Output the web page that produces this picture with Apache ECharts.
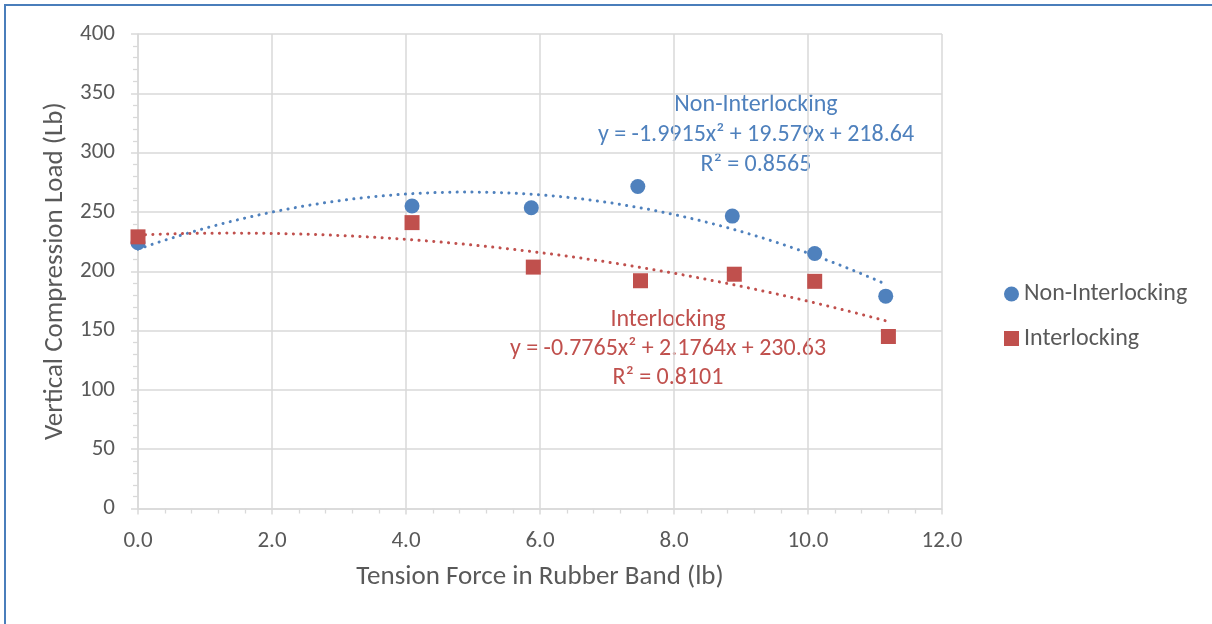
<!DOCTYPE html>
<html>
<head>
<meta charset="utf-8">
<script src="https://cdn.jsdelivr.net/npm/echarts@6/dist/echarts.min.js"></script>
<style>
  html, body { margin: 0; padding: 0; background: #fff; }
  #chart { width: 1212px; height: 624px; }
</style>
</head>
<body>
<div id="chart"></div>
<script>
// tension force (lb) / vertical compression load (Lb)
const nonInterX = [0, 4.09, 5.87, 7.46, 8.87, 10.1, 11.16]
const nonInterY = [224, 255, 253.5, 271.5, 246.5, 215, 179]
const interX = [0, 4.09, 5.9, 7.5, 8.9, 10.1, 11.2]
const interY = [229, 241, 203.5, 192, 197.5, 191.5, 145]

// trendline coefficients as printed on the chart (a x^2 + b x + c)
const nonInterCoef = [-1.9915, 19.579, 218.64]
const interCoef = [-0.7765, 2.1764, 230.63]
const nonInterLabel = ['Non-Interlocking', 'y = -1.9915x² + 19.579x + 218.64', 'R² = 0.8565']
const interLabel = ['Interlocking', 'y = -0.7765x² + 2.1764x + 230.63', 'R² = 0.8101']

const BLUE = '#4f81bd'
const RED = '#c0504d'
const TXT = '#595959'
const GRID = '#d9d9d9'
const FONT = 'Carlito, Lato, sans-serif'

const pairs = (xs, ys) => xs.map((x, i) => [x, ys[i]])

// sample the polynomial trendline across the data range
const trend = (coef, xs) => {
  const lo = Math.min(...xs), hi = Math.max(...xs)
  const pts = []
  for (let i = 0; i <= 120; i++) {
    const x = lo + (hi - lo) * i / 120
    pts.push([x, coef[0] * x * x + coef[1] * x + coef[2]])
  }
  return pts
}

const chart = echarts.init(document.getElementById('chart'))

const option = {
  animation: false,
  backgroundColor: '#fff',
  textStyle: { fontFamily: FONT },
  grid: { left: 138, top: 34, width: 804, height: 474.5 },
  legend: {
    orient: 'vertical',
    left: 1004,
    top: 282,
    padding: 0,
    itemWidth: 15,
    itemHeight: 15,
    itemGap: 20.5,
    data: ['Non-Interlocking', 'Interlocking'],
    textStyle: { color: TXT, fontSize: 24, fontFamily: FONT }
  },
  xAxis: {
    type: 'value',
    min: 0, max: 12, interval: 2,
    name: 'Tension Force in Rubber Band (lb)',
    nameLocation: 'middle',
    nameGap: 55,
    nameTextStyle: { color: TXT, fontSize: 27, fontFamily: FONT },
    axisLine: { show: true, onZero: false, lineStyle: { color: GRID, width: 1.5 } },
    axisTick: { show: true, length: 6, lineStyle: { color: GRID, width: 1.5 } },
    minorTick: { show: true, splitNumber: 5, length: 5, lineStyle: { color: GRID, width: 1.3 } },
    axisLabel: { color: TXT, fontSize: 23, margin: 21, formatter: v => v.toFixed(1) },
    splitLine: { show: true, lineStyle: { color: GRID, width: 1.5 } }
  },
  yAxis: {
    type: 'value',
    min: 0, max: 400, interval: 50,
    name: 'Vertical Compression Load (Lb)',
    nameLocation: 'middle',
    nameGap: 67,
    nameTextStyle: { color: TXT, fontSize: 27, fontFamily: FONT },
    axisLine: { show: true, lineStyle: { color: GRID, width: 1.5 } },
    axisTick: { show: true, length: 7, lineStyle: { color: GRID, width: 1.5 } },
    minorTick: { show: true, splitNumber: 5, length: 5, lineStyle: { color: GRID, width: 1.3 } },
    axisLabel: { color: TXT, fontSize: 23, margin: 23 },
    splitLine: { show: true, lineStyle: { color: GRID, width: 1.5 } }
  },
  // frame edge plus the two trendline label blocks
  graphic: [
    {
      type: 'rect', silent: true,
      shape: { x: 5, y: 5, width: 1400, height: 1000 },
      style: { fill: 'none', stroke: '#4a7ebb', lineWidth: 2 }
    },
    {
      type: 'text', silent: true, x: 756, y: 90,
      style: {
        text: nonInterLabel.join('\n'), fill: BLUE, font: '24px ' + FONT,
        lineHeight: 30, align: 'center', verticalAlign: 'top'
      }
    },
    {
      type: 'text', silent: true, x: 668, y: 305,
      style: {
        text: interLabel.join('\n'), fill: RED, font: '24px ' + FONT,
        lineHeight: 29, align: 'center', verticalAlign: 'top'
      }
    }
  ],
  series: [
    {
      name: 'Non-Interlocking trend', type: 'line', data: trend(nonInterCoef, nonInterX),
      showSymbol: false, silent: true, z: 1,
      lineStyle: { color: BLUE, width: 3, type: [0.1, 7.3], cap: 'round' }
    },
    {
      name: 'Interlocking trend', type: 'line', data: trend(interCoef, interX),
      showSymbol: false, silent: true, z: 1,
      lineStyle: { color: RED, width: 3, type: [0.1, 7.3], cap: 'round' }
    },
    {
      name: 'Non-Interlocking', type: 'scatter', symbol: 'circle', symbolSize: 15,
      data: pairs(nonInterX, nonInterY), itemStyle: { color: BLUE, opacity: 1 }, z: 3
    },
    {
      name: 'Interlocking', type: 'scatter', symbol: 'rect', symbolSize: 15,
      data: pairs(interX, interY), itemStyle: { color: RED, opacity: 1 }, z: 4
    }
  ]
}

chart.setOption(option)
</script>
</body>
</html>
